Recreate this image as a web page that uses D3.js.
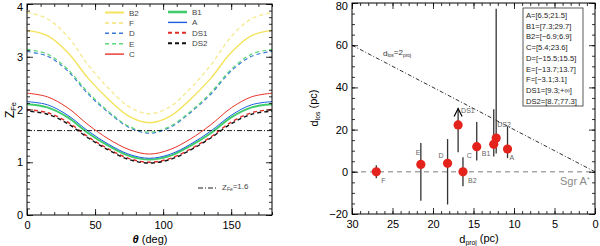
<!DOCTYPE html>
<html>
<head>
<meta charset="utf-8">
<script src="https://cdn.jsdelivr.net/npm/d3@7"></script>
<style>
  body { margin: 0; background: #fff; }
  svg { display: block; font-family: "Liberation Sans", Arial, sans-serif; }
</style>
</head>
<body>
<div class="content"></div>
<script>
// left panel: Z_Fe against viewing angle
const theta = [0, 15, 30, 45, 60, 75, 90, 105, 120, 135, 150, 165, 180];
const zB2  = [3.50, 3.40, 3.08, 2.59, 2.19, 1.87, 1.75, 1.87, 2.19, 2.59, 3.08, 3.40, 3.50];
const zF   = [3.84, 3.72, 3.38, 2.84, 2.40, 2.05, 1.92, 2.05, 2.40, 2.84, 3.38, 3.72, 3.84];
const zD   = [3.10, 3.01, 2.73, 2.29, 1.94, 1.66, 1.55, 1.66, 1.94, 2.29, 2.73, 3.01, 3.10];
const zE   = [3.14, 3.05, 2.76, 2.32, 1.96, 1.68, 1.57, 1.68, 1.96, 2.32, 2.76, 3.05, 3.14];
const zC   = [2.31, 2.24, 2.03, 1.71, 1.44, 1.24, 1.155, 1.24, 1.44, 1.71, 2.03, 2.24, 2.31];
const zB1  = [2.10, 2.04, 1.85, 1.55, 1.31, 1.12, 1.05, 1.12, 1.31, 1.55, 1.85, 2.04, 2.10];
const zA   = [2.15, 2.09, 1.89, 1.59, 1.34, 1.15, 1.075, 1.15, 1.34, 1.59, 1.89, 2.09, 2.15];
const zDS1 = [2.00, 1.94, 1.76, 1.48, 1.25, 1.07, 1.00, 1.07, 1.25, 1.48, 1.76, 1.94, 2.00];
const zDS2 = [1.97, 1.91, 1.73, 1.46, 1.23, 1.05, 0.985, 1.05, 1.23, 1.46, 1.73, 1.91, 1.97];
const zLimit = 1.6;

// right panel: clouds
const srcNames = ['F', 'E', 'D', 'DS1', 'B2', 'C', 'B1', 'DS2', 'A'];
const dProj   = [27.0, 21.5, 18.2, 16.9, 16.3, 14.6, 12.5, 12.2, 10.8];
const dLos    = [0, 3.5, 4.0, 22.2, 0, 11.9, 13.0, 16.0, 10.8];
const losLow  = [-3.1, -13.7, -15.5, 9.3, -6.9, 5.4, 7.3, 8.7, 6.5];
const losHigh = [3.1, 13.7, 15.5, Infinity, 6.9, 23.6, 29.7, 77.3, 21.5];
const legendOrder = ['A', 'B1', 'B2', 'C', 'D', 'E', 'F', 'DS1', 'DS2'];
const arrowTop = 30;

const [svgWidth, svgHeight] = [600, 246];
const svg = d3.select('.content')
  .append('svg')
  .attr('width', svgWidth)
  .attr('height', svgHeight);

const font = '"Liberation Sans", Arial, sans-serif';

// inward ticks on all four sides
const frameAxes = (g, x, y, xMajor, xMinor, yMajor, yMinor, fmtX, fmtY) => {
  const [x0, x1] = x.range();
  const [y0, y1] = y.range();
  const mk = (axis, tr, vals, size, fmt, pad) => {
    const a = g.append('g')
      .attr('transform', tr)
      .call(axis.tickValues(vals).tickSize(-size).tickPadding(pad)
        .tickFormat(fmt || (() => '')));
    a.select('.domain').remove();
    a.selectAll('line').attr('stroke', '#000').attr('stroke-width', 0.8);
    a.selectAll('text').attr('font-size', 11).attr('font-family', font).attr('fill', '#000');
    return a;
  };
  mk(d3.axisBottom(x), `translate(0,${y0})`, xMajor, 6, fmtX, 6);
  mk(d3.axisBottom(x), `translate(0,${y0})`, xMinor, 3, null, 6);
  mk(d3.axisTop(x), `translate(0,${y1})`, xMajor, 6, null, 3);
  mk(d3.axisTop(x), `translate(0,${y1})`, xMinor, 3, null, 3);
  const ly = mk(d3.axisLeft(y), `translate(${x0},0)`, yMajor, 6, fmtY, 4);
  // keep the top label inside the picture
  ly.selectAll('text').filter(d => d === y.domain()[1]).attr('dy', '0.62em');
  mk(d3.axisLeft(y), `translate(${x0},0)`, yMinor, 3, null, 4);
  mk(d3.axisRight(y), `translate(${x1},0)`, yMajor, 6, null, 3);
  mk(d3.axisRight(y), `translate(${x1},0)`, yMinor, 3, null, 3);
  g.append('rect')
    .attr('x', Math.min(x0, x1)).attr('y', y1)
    .attr('width', Math.abs(x1 - x0)).attr('height', y0 - y1)
    .attr('fill', 'none').attr('stroke', '#000').attr('stroke-width', 1);
};

const subText = (sel, parts) => {
  // parts: [text, isSub]
  parts.forEach(([t, sub], i) => {
    const ts = sel.append('tspan').text(t);
    if (sub) ts.attr('font-size', '0.62em').attr('dy', '0.3em');
    else if (i > 0 && parts[i - 1][1]) ts.attr('dy', '-0.3em');
  });
  return sel;
};

// ---------- left panel ----------
const left = svg.append('g');
const xL = d3.scaleLinear().domain([0, 180]).range([27, 272]);
const yL = d3.scaleLinear().domain([0, 4]).range([215, 4]);

const curves = [
  {name: 'B2', z: zB2, color: '#f4e35c', w: 1.4, dash: null},
  {name: 'F', z: zF, color: '#f6ea94', w: 1.4, dash: '4,3'},
  {name: 'D', z: zD, color: '#3b78d8', w: 1.2, dash: '4,3'},
  {name: 'E', z: zE, color: '#5dd87a', w: 1.2, dash: '4,3'},
  {name: 'C', z: zC, color: '#e8322a', w: 1, dash: null},
  {name: 'B1', z: zB1, color: '#40cc6a', w: 2, dash: null},
  {name: 'A', z: zA, color: '#1c5ee0', w: 1, dash: null},
  {name: 'DS1', z: zDS1, color: '#e02a24', w: 1.4, dash: '4,3'},
  {name: 'DS2', z: zDS2, color: '#111', w: 1.4, dash: '4,3', off: 3.5}
];

const line = d3.line()
  .x((d, i) => xL(theta[i]))
  .y(d => yL(d))
  .curve(d3.curveCatmullRom.alpha(0.5));

left.selectAll('path.curve')
  .data(curves)
  .enter()
  .append('path')
  .classed('curve', true)
  .attr('fill', 'none')
  .attr('stroke', d => d.color)
  .attr('stroke-width', d => d.w)
  .attr('stroke-dasharray', d => d.dash)
  .attr('stroke-dashoffset', d => d.off || 0)
  .attr('d', d => line(d.z));

left.append('line')
  .attr('x1', xL(0)).attr('x2', xL(180))
  .attr('y1', yL(zLimit)).attr('y2', yL(zLimit))
  .attr('stroke', '#000').attr('stroke-width', 0.9)
  .attr('stroke-dasharray', '5,2,1,2');

frameAxes(left, xL, yL,
  [0, 50, 100, 150], d3.range(0, 181, 10),
  [0, 1, 2, 3, 4], d3.range(0, 4.001, 0.125),
  d3.format('d'), d3.format('d'));

// legend (two columns)
const legCols = [
  {x: 105, names: ['B2', 'F', 'D', 'E', 'C'], y0: 12.5, dy: 10.4},
  {x: 168, names: ['B1', 'A', 'DS1', 'DS2'], y0: 12, dy: 10.4}
];
legCols.forEach(col => {
  col.names.forEach((n, i) => {
    const c = curves.find(k => k.name === n);
    const y = col.y0 + i * col.dy;
    left.append('line')
      .attr('x1', col.x).attr('x2', col.x + 19)
      .attr('y1', y).attr('y2', y)
      .attr('stroke', c.color)
      .attr('stroke-width', c.w < 1.3 ? 1.4 : c.w + 0.6)
      .attr('stroke-dasharray', c.dash);
    left.append('text')
      .attr('x', col.x + 24).attr('y', y + 3)
      .attr('font-size', 8).attr('fill', '#444')
      .text(n);
  });
});
left.append('line')
  .attr('x1', 198).attr('x2', 218).attr('y1', 188).attr('y2', 188)
  .attr('stroke', '#000').attr('stroke-width', 0.9)
  .attr('stroke-dasharray', '5,2,1,2');
subText(left.append('text').attr('x', 222).attr('y', 190)
  .attr('font-size', 8).attr('fill', '#444'),
  [['Z', false], ['Fe', true], ['=1.6', false]]);

subText(left.append('text')
  .attr('transform', 'translate(14,110) rotate(-90)')
  .attr('text-anchor', 'middle')
  .attr('font-size', 12), [['Z', false], ['Fe', true]]);

const tl = left.append('text')
  .attr('x', 150).attr('y', 243)
  .attr('text-anchor', 'middle')
  .attr('font-size', 11);
tl.append('tspan').attr('font-weight', 'bold').attr('font-style', 'italic').text('θ');
tl.append('tspan').text(' (deg)');

// ---------- right panel ----------
const right = svg.append('g');
const xR = d3.scaleLinear().domain([30, 0]).range([352, 595]);
const yR = d3.scaleLinear().domain([-20, 80]).range([214, 3]);

right.append('line')
  .attr('x1', xR(30)).attr('x2', xR(0))
  .attr('y1', yR(0)).attr('y2', yR(0))
  .attr('stroke', '#a8a8a8').attr('stroke-width', 1.6)
  .attr('stroke-dasharray', '5,4');

right.append('line')
  .attr('x1', xR(30)).attr('y1', yR(2 * 30))
  .attr('x2', xR(0)).attr('y2', yR(0))
  .attr('stroke', '#000').attr('stroke-width', 0.8)
  .attr('stroke-dasharray', '4,2,1,2');

subText(right.append('text').attr('x', 383).attr('y', 56)
  .attr('font-size', 8).attr('fill', '#333'),
  [['d', false], ['los', true], ['=2', false], ['proj', true]]);

const pts = srcNames.map((n, i) => ({
  name: n, dp: dProj[i], dl: dLos[i], lo: losLow[i], hi: losHigh[i]
}));

// error bars
right.selectAll('line.err')
  .data(pts)
  .enter()
  .append('line')
  .classed('err', true)
  .attr('x1', d => xR(d.dp)).attr('x2', d => xR(d.dp))
  .attr('y1', d => yR(d.lo))
  .attr('y2', d => yR(isFinite(d.hi) ? d.hi : arrowTop))
  .attr('stroke', '#333').attr('stroke-width', 1.3);

// open upper limit
pts.filter(d => !isFinite(d.hi)).forEach(d => {
  const x = xR(d.dp), y = yR(arrowTop);
  right.append('path')
    .attr('d', `M${x - 4},${y + 8} L${x},${y} L${x + 4},${y + 8}`)
    .attr('fill', 'none').attr('stroke', '#000').attr('stroke-width', 1.2);
});

right.selectAll('circle.src')
  .data(pts)
  .enter()
  .append('circle')
  .classed('src', true)
  .attr('cx', d => xR(d.dp))
  .attr('cy', d => yR(d.dl))
  .attr('r', 4.6)
  .attr('fill', '#e4231c');

const labelOffsets = {
  F: [5, 11], E: [-5, -9], D: [-9, -5], DS1: [3, -12], B2: [5, 11],
  C: [-10, 11], B1: [-12, 12], DS2: [1, -11], A: [2, 11]
};
right.selectAll('text.lab')
  .data(pts)
  .enter()
  .append('text')
  .classed('lab', true)
  .attr('x', d => xR(d.dp) + labelOffsets[d.name][0])
  .attr('y', d => yR(d.dl) + labelOffsets[d.name][1])
  .attr('font-size', 7).attr('fill', '#666')
  .text(d => d.name);

const sgr = right.append('text')
  .attr('x', 560).attr('y', 185)
  .attr('font-size', 11).attr('fill', '#8a8a8a');
sgr.append('tspan').text('Sgr A');
sgr.append('tspan').attr('font-size', 7).attr('dy', '-0.5em').text('*');

frameAxes(right, xR, yR,
  [30, 25, 20, 15, 10, 5, 0], d3.range(0, 31, 1),
  [-20, 0, 20, 40, 60, 80], d3.range(-20, 81, 5),
  d3.format('d'), d => d3.format('d')(d).replace('-', '\u2212'));

// interval box
const fmtI = v => isFinite(v) ? String(v).replace('-', '\u2212') : '+\u221e';
right.append('rect')
  .attr('x', 523).attr('y', 8).attr('width', 60).attr('height', 98)
  .attr('fill', '#fff').attr('stroke', '#333').attr('stroke-width', 0.8);
right.selectAll('text.intv')
  .data(legendOrder)
  .enter()
  .append('text')
  .classed('intv', true)
  .attr('x', 526)
  .attr('y', (d, i) => 18 + i * 10.7)
  .attr('font-size', 7.6).attr('fill', '#222')
  .text(n => {
    const i = srcNames.indexOf(n);
    return `${n}=[${fmtI(losLow[i])};${fmtI(losHigh[i])}]`;
  });

subText(right.append('text')
  .attr('transform', 'translate(318,108) rotate(-90)')
  .attr('text-anchor', 'middle')
  .attr('font-size', 11), [['d', false], ['los', true], ['  (pc)', false]]);

subText(right.append('text')
  .attr('x', 479).attr('y', 243)
  .attr('text-anchor', 'middle')
  .attr('font-size', 11), [['d', false], ['proj', true], [' (pc)', false]]);
</script>
</body>
</html>
